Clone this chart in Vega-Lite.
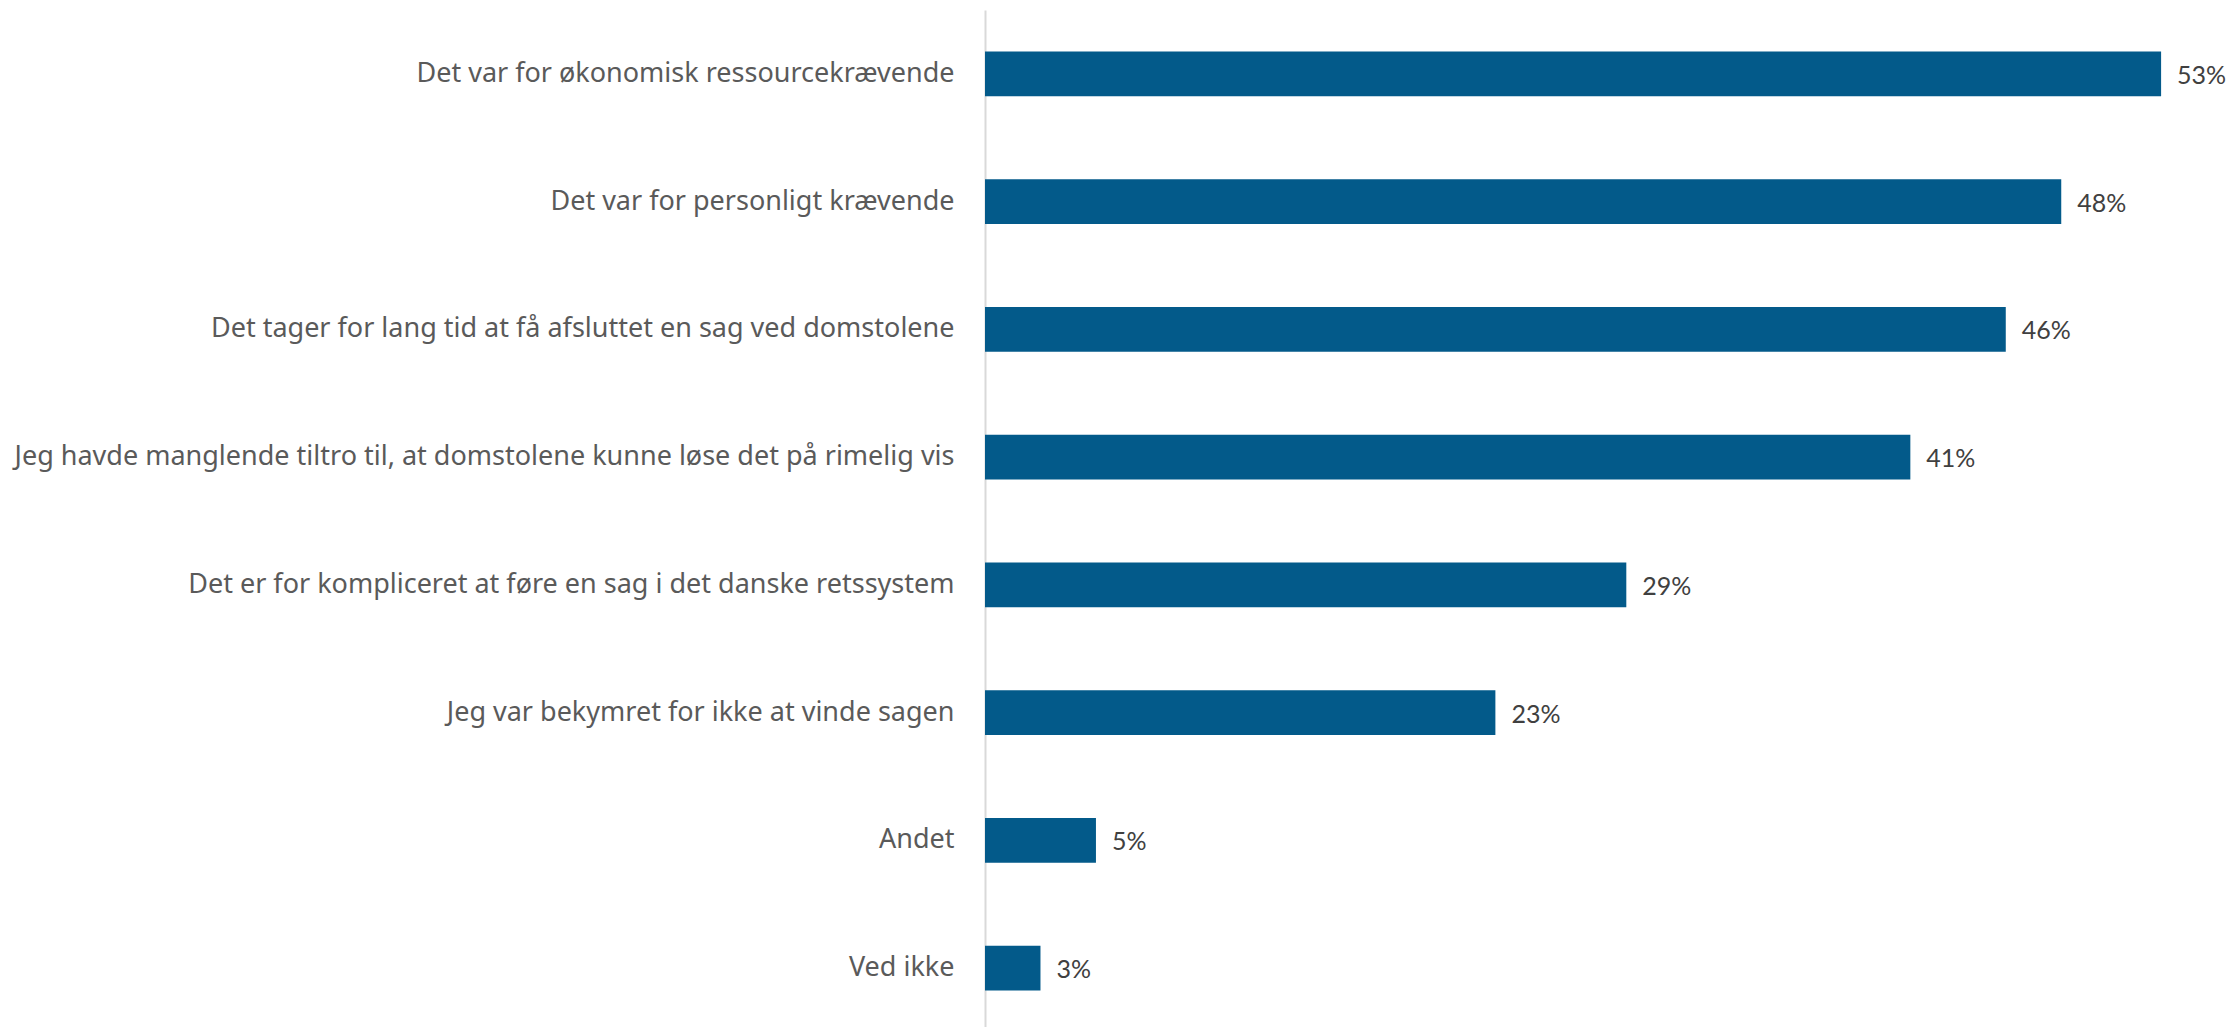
{
  "$schema": "https://vega.github.io/schema/vega-lite/v6.json",
  "autosize": "none",
  "padding": {"left": 985, "top": 10, "right": 0, "bottom": 0},
  "width": 1246,
  "height": 1022,
  "background": "white",
  "config": {"view": {"stroke": null}},
  "data": {
    "values": [
      {"kategori": "Det var for økonomisk ressourcekrævende", "andel": 53, "label": "53%"},
      {"kategori": "Det var for personligt krævende", "andel": 48.5, "label": "48%"},
      {"kategori": "Det tager for lang tid at få afsluttet en sag ved domstolene", "andel": 46, "label": "46%"},
      {"kategori": "Jeg havde manglende tiltro til, at domstolene kunne løse det på rimelig vis", "andel": 41.7, "label": "41%"},
      {"kategori": "Det er for kompliceret at føre en sag i det danske retssystem", "andel": 28.9, "label": "29%"},
      {"kategori": "Jeg var bekymret for ikke at vinde sagen", "andel": 23, "label": "23%"},
      {"kategori": "Andet", "andel": 5, "label": "5%"},
      {"kategori": "Ved ikke", "andel": 2.5, "label": "3%"}
    ]
  },
  "encoding": {
    "y": {
      "field": "kategori",
      "type": "nominal",
      "sort": null,
      "scale": {"paddingInner": 0.648, "paddingOuter": 0.324},
      "axis": {
        "title": null,
        "ticks": false,
        "labelPadding": 31,
        "labelFont": "Noto Sans",
        "labelFontSize": 27,
        "labelColor": "#5a5a5a",
        "labelLimit": 1200,
        "domainColor": "#d9d9d9",
        "domainWidth": 2
      }
    },
    "x": {
      "field": "andel",
      "type": "quantitative",
      "scale": {"domain": [0, 56.15], "nice": false, "zero": true},
      "axis": null
    }
  },
  "layer": [
    {"mark": {"type": "bar", "color": "#035a8a"}},
    {
      "mark": {"type": "text", "align": "left", "baseline": "middle", "dx": 16, "dy": 2, "font": "Lato", "fontSize": 25, "color": "#404040"},
      "encoding": {"text": {"field": "label"}}
    }
  ]
}
